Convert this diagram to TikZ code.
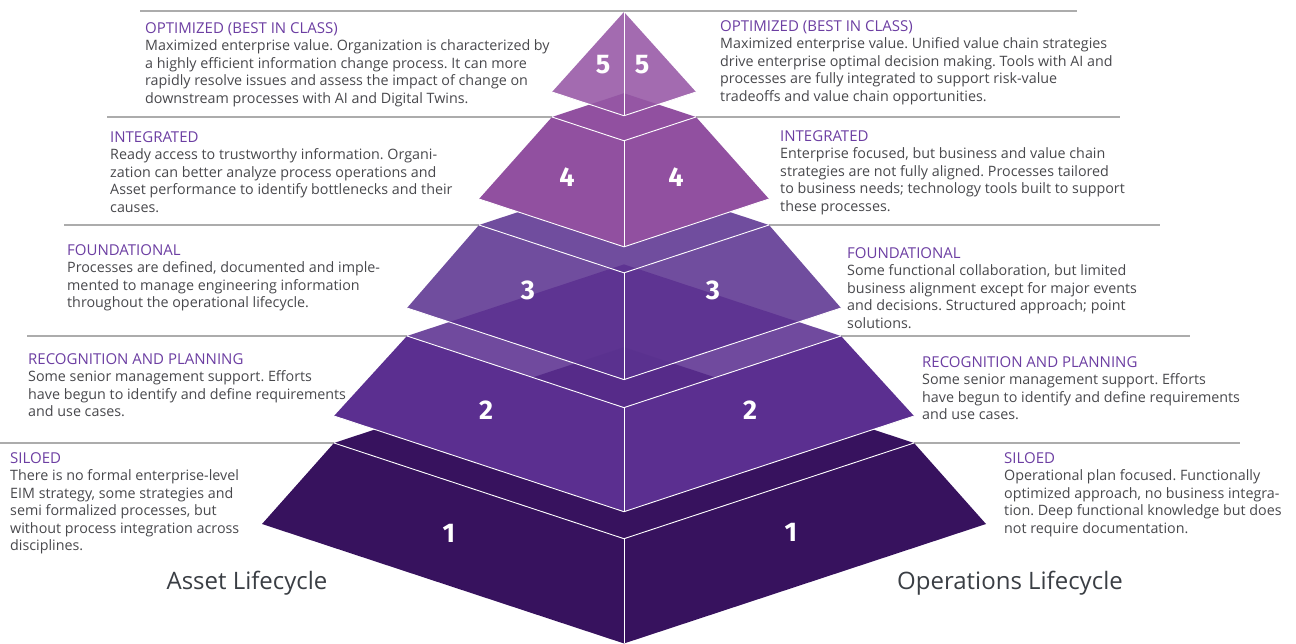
\documentclass[tikz,border=0pt]{standalone}
\usepackage{fontspec}
\setmainfont{Open Sans}
\newfontfamily\digitfont{Fira Sans}
\usepackage{tikz}
\frenchspacing

\definecolor{tierOne}{RGB}{55,18,94}
\definecolor{tierTwo}{RGB}{91,47,144}
\definecolor{tierThree}{RGB}{91,50,144}
\definecolor{tierFour}{RGB}{145,80,160}
\definecolor{tierFive}{RGB}{150,87,165}
\definecolor{guideGray}{RGB}{172,172,172}
\definecolor{headPurple}{RGB}{108,62,162}
\definecolor{bodyGray}{RGB}{72,72,76}
\definecolor{labelGray}{RGB}{58,62,68}

\newcommand\hd[1]{{\color{headPurple}\fontsize{15}{17.5}\selectfont #1}}

\begin{document}
\begin{tikzpicture}[x=1pt, y=-1pt,
    guide/.style={draw=guideGray, line width=2pt},
    edge/.style={draw=white, line width=0.9pt},
    blurb/.style={anchor=north west, inner sep=0pt, align=left, text=bodyGray,
      font=\fontsize{14.3}{17.5}\selectfont},
    digit/.style={text=white, font=\digitfont\bfseries\fontsize{27}{27}\selectfont},
    lifecycle/.style={text=labelGray, font=\fontsize{24}{28}\selectfont}]
  \def\cx{624}
  \def\s{0.33}
  \useasboundingbox (0,0) rectangle (1296,644);

  % corners where the guide lines end
  \coordinate (apex) at (\cx,12);
  \coordinate (c4l) at ({\cx-72},117);   \coordinate (c4r) at ({\cx+72},117);
  \coordinate (c3l) at ({\cx-145},225);  \coordinate (c3r) at ({\cx+145},225);
  \coordinate (c2l) at ({\cx-217},336);  \coordinate (c2r) at ({\cx+217},336);
  \coordinate (c1l) at ({\cx-290},443);  \coordinate (c1r) at ({\cx+290},443);
  \coordinate (g5l) at (140,11);  \coordinate (g5r) at (1077,11);
  \coordinate (g4l) at (107,117); \coordinate (g4r) at (1120,117);
  \coordinate (g3l) at (64,225);  \coordinate (g3r) at (1160,225);
  \coordinate (g2l) at (27,336);  \coordinate (g2r) at (1190,336);
  \coordinate (g1l) at (0,443);   \coordinate (g1r) at (1240,443);

  % guide lines
  \draw[guide] (g5l) -- (g5r);
  \draw[guide] (g4l) -- (c4l);  \draw[guide] (c4r) -- (g4r);
  \draw[guide] (g3l) -- (c3l);  \draw[guide] (c3r) -- (g3r);
  \draw[guide] (g2l) -- (c2l);  \draw[guide] (c2r) -- (g2r);
  \draw[guide] (g1l) -- (c1l);  \draw[guide] (c1r) -- (g1r);

  % tier 1
  \fill[tierOne] (c1l) -- (\cx,{443-\s*290}) -- (c1r) -- (\cx,{443+\s*290}) -- cycle;
  \fill[tierOne] (c1l) -- (\cx,{443+\s*290}) -- (c1r) -- ({\cx+362},524) -- (\cx,{524+\s*362}) -- ({\cx-362},524) -- cycle;
  \draw[edge] (c1l) -- (\cx,{443+\s*290}) -- (c1r);
  \draw[edge] (\cx,{443+\s*290}) -- (\cx,{524+\s*362});
  % tier 2
  \fill[tierTwo, fill opacity=0.87] (c2l) -- (\cx,{336-\s*217}) -- (c2r) -- (\cx,{336+\s*217}) -- cycle;
  \fill[tierTwo] (c2l) -- (\cx,{336+\s*217}) -- (c2r) -- ({\cx+290},416) -- (\cx,{416+\s*290}) -- ({\cx-290},416) -- cycle;
  \draw[edge] (c2l) -- (\cx,{336+\s*217}) -- (c2r);
  \draw[edge] ({\cx-290},416) -- (\cx,{416+\s*290}) -- ({\cx+290},416);
  \draw[edge] (\cx,{336+\s*217}) -- (\cx,{416+\s*290});
  % tier 3
  \fill[tierThree, fill opacity=0.87] (c3l) -- (\cx,{225-\s*145}) -- (c3r) -- (\cx,{225+\s*145}) -- cycle;
  \fill[tierThree, fill opacity=0.87] (c3l) -- (\cx,{225+\s*145}) -- (c3r) -- ({\cx+217},308) -- (\cx,{308+\s*217}) -- ({\cx-217},308) -- cycle;
  \draw[edge] (c3l) -- (\cx,{225+\s*145}) -- (c3r);
  \draw[edge] ({\cx-217},308) -- (\cx,{308+\s*217}) -- ({\cx+217},308);
  \draw[edge] (\cx,{225+\s*145}) -- (\cx,{308+\s*217});
  % tier 4
  \fill[tierFour] (c4l) -- (\cx,{117-\s*72}) -- (c4r) -- (\cx,{117+\s*72}) -- cycle;
  \fill[tierFour] (c4l) -- (\cx,{117+\s*72}) -- (c4r) -- ({\cx+145},199) -- (\cx,{199+\s*145}) -- ({\cx-145},199) -- cycle;
  \draw[edge] (c4l) -- (\cx,{117+\s*72}) -- (c4r);
  \draw[edge] ({\cx-145},199) -- (\cx,{199+\s*145}) -- ({\cx+145},199);
  \draw[edge] (\cx,{117+\s*72}) -- (\cx,{199+\s*145});
  % tier 5
  \fill[tierFive, fill opacity=0.88] (apex) -- ({\cx+72},92) -- (\cx,{92+\s*72}) -- ({\cx-72},92) -- cycle;
  \draw[edge] ({\cx-72},92) -- (\cx,{92+\s*72}) -- ({\cx+72},92);
  \draw[edge] (apex) -- (\cx,{92+\s*72});

  % tier numbers
  \node[digit] (n5l) at (603,65) {5};  \node[digit] (n5r) at (642,65) {5};
  \node[digit] (n4l) at (567,177) {4}; \node[digit] (n4r) at (676,177) {4};
  \node[digit] (n3l) at (528,290) {3}; \node[digit] (n3r) at (713,290) {3};
  \node[digit] (n2l) at (486,410) {2}; \node[digit] (n2r) at (750,410) {2};
  \node[digit] (n1l) at (449,533) {1}; \node[digit] (n1r) at (791,532) {1};

  % asset side
  \node[blurb] (a5) at (145,22) {\hd{OPTIMIZED (BEST IN CLASS)}\\
    Maximized enterprise value. Organization is characterized by\\
    a highly efficient information change process. It can more\\
    rapidly resolve issues and assess the impact of change on\\
    downstream processes with AI and Digital Twins.};
  \node[blurb] (a4) at (110,131) {\hd{INTEGRATED}\\
    Ready access to trustworthy information. Organi-\\
    zation can better analyze process operations and\\
    Asset performance to identify bottlenecks and their\\
    causes.};
  \node[blurb] (a3) at (67,244) {\hd{FOUNDATIONAL}\\
    Processes are defined, documented and imple-\\
    mented to manage engineering information\\
    throughout the operational lifecycle.};
  \node[blurb] (a2) at (28,353) {\hd{RECOGNITION AND PLANNING}\\
    Some senior management support. Efforts\\
    have begun to identify and define requirements\\
    and use cases.};
  \node[blurb] (a1) at (10,452) {\hd{SILOED}\\
    There is no formal enterprise-level\\
    EIM strategy, some strategies and\\
    semi formalized processes, but\\
    without process integration across\\
    disciplines.};

  % operations side
  \node[blurb] (o5) at (720,20) {\hd{OPTIMIZED (BEST IN CLASS)}\\
    Maximized enterprise value. Unified value chain strategies\\
    drive enterprise optimal decision making. Tools with AI and\\
    processes are fully integrated to support risk-value\\
    tradeoffs and value chain opportunities.};
  \node[blurb] (o4) at (780,130) {\hd{INTEGRATED}\\
    Enterprise focused, but business and value chain\\
    strategies are not fully aligned. Processes tailored\\
    to business needs; technology tools built to support\\
    these processes.};
  \node[blurb] (o3) at (847,247) {\hd{FOUNDATIONAL}\\
    Some functional collaboration, but limited\\
    business alignment except for major events\\
    and decisions. Structured approach; point\\
    solutions.};
  \node[blurb] (o2) at (922,356) {\hd{RECOGNITION AND PLANNING}\\
    Some senior management support. Efforts\\
    have begun to identify and define requirements\\
    and use cases.};
  \node[blurb] (o1) at (1004,452) {\hd{SILOED}\\
    Operational plan focused. Functionally\\
    optimized approach, no business integra-\\
    tion. Deep functional knowledge but does\\
    not require documentation.};

  \node[lifecycle] (asset) at (247,583) {Asset Lifecycle};
  \node[lifecycle] (ops) at (1010,583) {Operations Lifecycle};
\end{tikzpicture}
\end{document}
